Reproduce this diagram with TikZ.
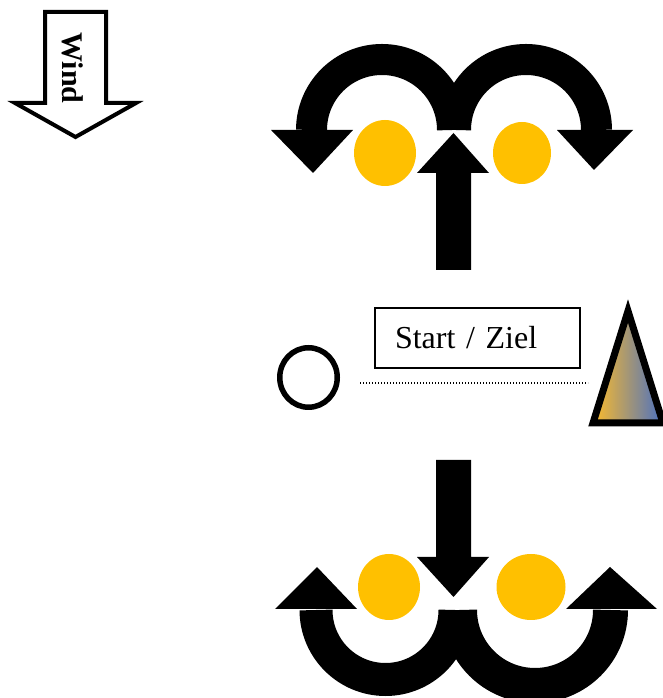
\documentclass[tikz,border=0pt]{standalone}
\usepackage{fontspec}
\setmainfont{Liberation Serif}
\usetikzlibrary{shapes.geometric}
\definecolor{sun}{HTML}{FFC000}
\definecolor{warm}{HTML}{FBBB2C}
\definecolor{cool}{HTML}{4A70C2}
\begin{document}
\begin{tikzpicture}[x=1pt,y=1pt,
 sun/.style={ellipse,fill=sun,inner sep=0pt},
 swirl/.style={line width=#1,line cap=butt},
 bigtext/.style={font=\fontsize{32}{38}\selectfont}]
\useasboundingbox (0,0) rectangle (663,698);
\draw[line width=4pt,fill=white] (45,686) -- (106,686) -- (106,595) -- (136,595)
 -- (75.5,561) -- (15,595) -- (45,595) -- cycle;
\node[rotate=-90,inner sep=0pt,font=\bfseries\fontsize{30}{36}\selectfont] (wind) at (72.5,630) {Wind};
\node[sun,minimum width=62pt,minimum height=66pt] (sunTL) at (385,545) {};
\node[sun,minimum width=58pt,minimum height=62pt] (sunTR) at (522,545) {};
\draw[swirl=31pt] (311.5,568) arc[start angle=180,end angle=0,radius=70.5];
\draw[swirl=31pt] (455.5,568) arc[start angle=180,end angle=0,radius=70.5];
\fill (271,568) -- (353,568) -- (313,525) -- cycle;
\fill (557,568) -- (633,568) -- (594,528) -- cycle;
\fill (436,428) -- (436,525) -- (417,525) -- (453.5,565) -- (489,525) -- (471,525)
 -- (471,428) -- cycle;
\node[draw,ellipse,line width=5.5pt,minimum width=57.5pt,minimum height=59.5pt,
 inner sep=0pt] (ring) at (308.5,320.5) {};
\node[draw,line width=1.2pt,minimum height=60pt,text width=165pt,inner xsep=20pt,
 align=left,bigtext] (goal) at (477.5,360) {Start / Ziel};
\coordinate (dotA) at (360,315);
\coordinate (dotB) at (588,315);
\draw[line width=1.2pt,dash pattern=on 1.2pt off 1.8pt] (dotA) -- (dotB);
\draw[line width=7pt,left color=warm,middle color={rgb,255:red,172;green,152;blue,154},
 right color=cool] (593,275) -- (628,387) -- (663,275) -- cycle;
\node[sun,minimum width=62pt,minimum height=66pt] (sunBL) at (389,111) {};
\node[sun,minimum width=69pt,minimum height=66pt] (sunBR) at (531,111) {};
\draw[swirl=33pt] (316,88) arc[start angle=180,end angle=360,radius=69.5];
\draw[swirl=35pt] (459.5,88) arc[start angle=180,end angle=360,radius=75.5];
\fill (275,89) -- (357,89) -- (317,131) -- cycle;
\fill (566,89) -- (657,89) -- (610,131) -- cycle;
\fill (436,238) -- (436,141) -- (417,141) -- (453.5,101) -- (489,141) -- (471,141)
 -- (471,238) -- cycle;
\end{tikzpicture}
\end{document}
